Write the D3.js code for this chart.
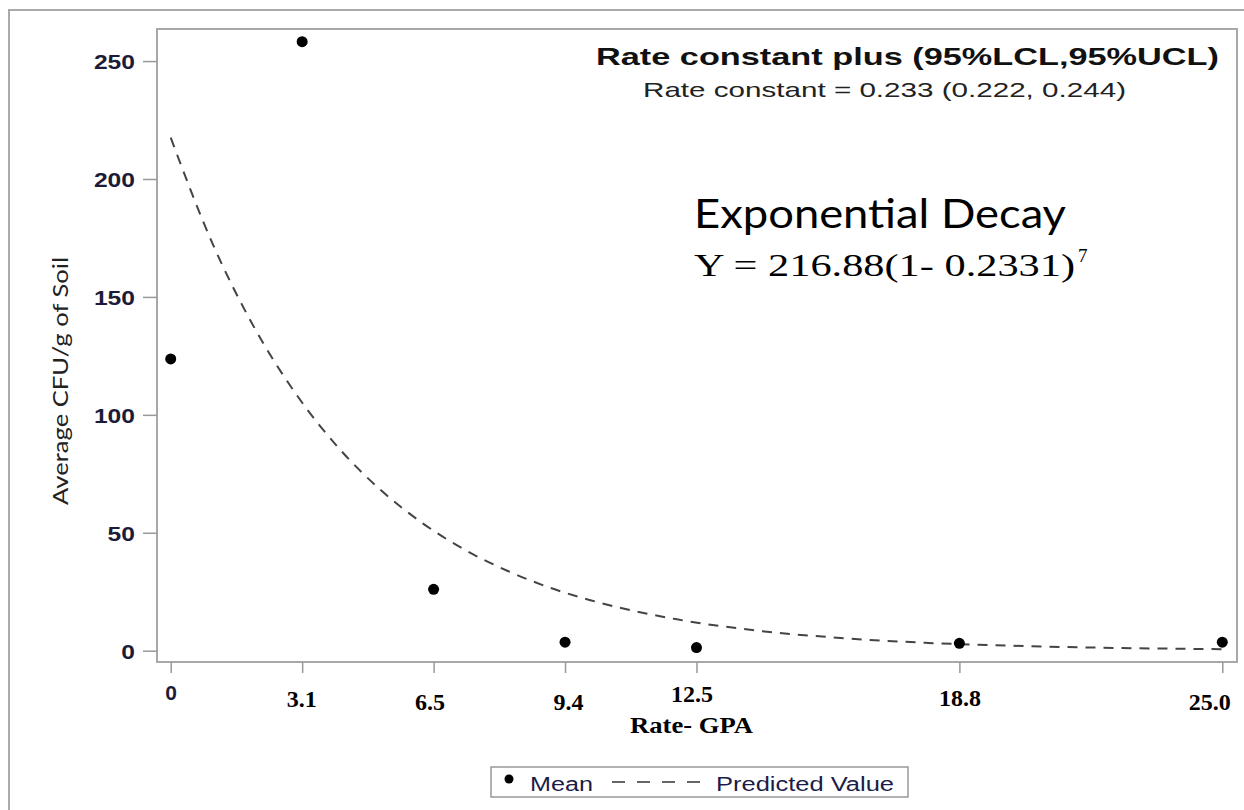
<!DOCTYPE html>
<html>
<head>
<meta charset="utf-8">
<script src="https://cdn.jsdelivr.net/npm/d3@7"></script>
<style>
  body { margin: 0; background: #fff; }
  svg { display: block; }
</style>
</head>
<body>
<div id="plot"></div>
<script>
// values
const rates = [0, 3.125, 6.25, 9.375, 12.5, 18.75, 25];
const tickLabels = ["0", "3.1", "6.5", "9.4", "12.5", "18.8", "25.0"];
const meanCFU = [123.7, 258.2, 26.0, 3.6, 1.3, 3.1, 3.6];
const predX = [0, 1, 2, 3, 4, 5, 6, 7, 8, 9, 10, 12, 14, 16, 18, 20, 22, 25];
const predY = [217.5, 172.4, 136.6, 108.3, 85.8, 68.0, 53.9, 42.7, 33.9, 26.8, 21.3, 13.4, 8.4, 5.3, 3.3, 2.1, 1.3, 0.65];
const yTicks = [0, 50, 100, 150, 200, 250];

const w = 1244;
const h = 810;
const plot = {left: 157, right: 1237, top: 29, bottom: 662};

// x tick labels were pasted over by hand, each a bit off
const xLabelShift = [0, -1, -4, 3, -5, 0, -13];
const xLabelBase = [700, 707, 710, 710, 702, 706, 710];

const svg = d3.select("div#plot")
  .append("svg")
    .attr("width", w)
    .attr("height", h);

svg.append("rect")
    .attr("width", w)
    .attr("height", h)
    .attr("fill", "white");

// outer frame (runs off right and bottom)
svg.append("rect")
    .attr("x", 9)
    .attr("y", 10)
    .attr("width", 1300)
    .attr("height", 900)
    .attr("fill", "none")
    .attr("stroke", "#aaa")
    .attr("stroke-width", 2);

const xScale = d3.scaleLinear()
    .domain([-0.326, 25.35])
    .range([plot.left, plot.right]);

const yScale = d3.scaleLinear()
    .domain([-4.8, 263.6])
    .range([plot.bottom, plot.top]);

// plot frame
svg.append("rect")
    .attr("x", plot.left)
    .attr("y", plot.top)
    .attr("width", plot.right - plot.left)
    .attr("height", plot.bottom - plot.top)
    .attr("fill", "none")
    .attr("stroke", "#a8a8a8")
    .attr("stroke-width", 2);

const yAxis = d3.axisLeft(yScale)
    .tickValues(yTicks)
    .tickSize(14)
    .tickPadding(8)
    .tickSizeOuter(0);

const gy = svg.append("g")
    .attr("class", "yAxis")
    .attr("transform", `translate(${plot.left},0)`)
    .call(yAxis);

gy.select(".domain").remove();
gy.selectAll(".tick line").attr("stroke", "#999").attr("stroke-width", 1.5);
gy.selectAll(".tick text")
    .attr("font-family", "Liberation Sans, Arial, sans-serif")
    .attr("font-weight", "bold")
    .attr("font-size", 21)
    .attr("fill", "#1c1c38")
    .attr("dy", "0.36em")
    .attr("textLength", d => String(d).length * 13.7)
    .attr("lengthAdjust", "spacingAndGlyphs");

const xAxis = d3.axisBottom(xScale)
    .tickValues(rates)
    .tickFormat((d, i) => tickLabels[i])
    .tickSize(11)
    .tickSizeOuter(0);

const gx = svg.append("g")
    .attr("class", "xAxis")
    .attr("transform", `translate(0,${plot.bottom})`)
    .call(xAxis);

gx.select(".domain").remove();
gx.selectAll(".tick line").attr("stroke", "#999").attr("stroke-width", 1.5);
gx.selectAll(".tick text")
    .attr("x", (d, i) => xLabelShift[i])
    .attr("y", (d, i) => xLabelBase[i] - plot.bottom)
    .attr("dy", null)
    .attr("font-family", (d, i) => i === 0 ? "Liberation Sans, Arial, sans-serif" : "Liberation Serif, Times New Roman, serif")
    .attr("font-weight", "bold")
    .attr("font-size", (d, i) => i === 0 ? 21 : 24)
    .attr("fill", (d, i) => i === 0 ? "#1c1c38" : "#000");

svg.append("text")
    .attr("x", 691.5)
    .attr("y", 733)
    .attr("text-anchor", "middle")
    .attr("font-family", "Liberation Serif, Times New Roman, serif")
    .attr("font-weight", "bold")
    .attr("font-size", 24)
    .attr("textLength", 123)
    .attr("lengthAdjust", "spacingAndGlyphs")
    .text("Rate- GPA");

svg.append("text")
    .attr("transform", "translate(68,381) rotate(-90)")
    .attr("text-anchor", "middle")
    .attr("font-family", "Lato, sans-serif")
    .attr("font-size", 21)
    .attr("fill", "#222")
    .attr("textLength", 248)
    .attr("lengthAdjust", "spacingAndGlyphs")
    .text("Average CFU/g of Soil");

// predicted value curve
const line = d3.line()
    .x((d, i) => xScale(predX[i]))
    .y(d => yScale(d))
    .curve(d3.curveMonotoneX);

svg.append("path")
    .datum(predY)
    .attr("d", line)
    .attr("fill", "none")
    .attr("stroke", "#444")
    .attr("stroke-width", 2)
    .attr("stroke-dasharray", "10,8");

// means
svg.append("g")
  .selectAll("circle")
  .data(meanCFU)
  .enter().append("circle")
    .attr("cx", (d, i) => xScale(rates[i]))
    .attr("cy", d => yScale(d))
    .attr("r", 5.5)
    .attr("fill", "black");

// annotation texts
svg.append("text")
    .attr("x", 596)
    .attr("y", 65)
    .attr("font-family", "Liberation Sans, Arial, sans-serif")
    .attr("font-weight", "bold")
    .attr("font-size", 24)
    .attr("fill", "#111")
    .attr("textLength", 623)
    .attr("lengthAdjust", "spacingAndGlyphs")
    .text("Rate constant plus (95%LCL,95%UCL)");

svg.append("text")
    .attr("x", 643)
    .attr("y", 97)
    .attr("font-family", "Liberation Sans, Arial, sans-serif")
    .attr("font-size", 21)
    .attr("fill", "#222")
    .attr("textLength", 483)
    .attr("lengthAdjust", "spacingAndGlyphs")
    .text("Rate constant = 0.233 (0.222, 0.244)");

svg.append("text")
    .attr("x", 694)
    .attr("y", 228)
    .attr("font-family", "Lato, sans-serif")
    .attr("font-size", 40)
    .attr("fill", "#000")
    .attr("textLength", 372)
    .attr("lengthAdjust", "spacingAndGlyphs")
    .text("Exponential Decay");

svg.append("text")
    .attr("x", 694)
    .attr("y", 276)
    .attr("font-family", "Liberation Serif, Times New Roman, serif")
    .attr("font-size", 32)
    .attr("fill", "#000")
    .attr("textLength", 381)
    .attr("lengthAdjust", "spacingAndGlyphs")
    .text("Y = 216.88(1- 0.2331)");

svg.append("text")
    .attr("x", 1078)
    .attr("y", 262)
    .attr("font-family", "Liberation Serif, Times New Roman, serif")
    .attr("font-size", 19)
    .attr("fill", "#000")
    .text("7");

// legend
const legend = svg.append("g");

legend.append("rect")
    .attr("x", 491)
    .attr("y", 767)
    .attr("width", 417)
    .attr("height", 30)
    .attr("fill", "white")
    .attr("stroke", "#999")
    .attr("stroke-width", 1.5);

legend.append("circle")
    .attr("cx", 509)
    .attr("cy", 779)
    .attr("r", 4.5)
    .attr("fill", "black");

legend.append("text")
    .attr("x", 530)
    .attr("y", 791)
    .attr("font-family", "Liberation Sans, Arial, sans-serif")
    .attr("font-size", 20)
    .attr("fill", "#1c1c48")
    .attr("textLength", 63)
    .attr("lengthAdjust", "spacingAndGlyphs")
    .text("Mean");

legend.append("line")
    .attr("x1", 612)
    .attr("x2", 700)
    .attr("y1", 782)
    .attr("y2", 782)
    .attr("stroke", "#333")
    .attr("stroke-width", 1.5)
    .attr("stroke-dasharray", "13,12");

legend.append("text")
    .attr("x", 716)
    .attr("y", 791)
    .attr("font-family", "Liberation Sans, Arial, sans-serif")
    .attr("font-size", 20)
    .attr("fill", "#1c1c48")
    .attr("textLength", 178)
    .attr("lengthAdjust", "spacingAndGlyphs")
    .text("Predicted Value");
</script>
</body>
</html>
